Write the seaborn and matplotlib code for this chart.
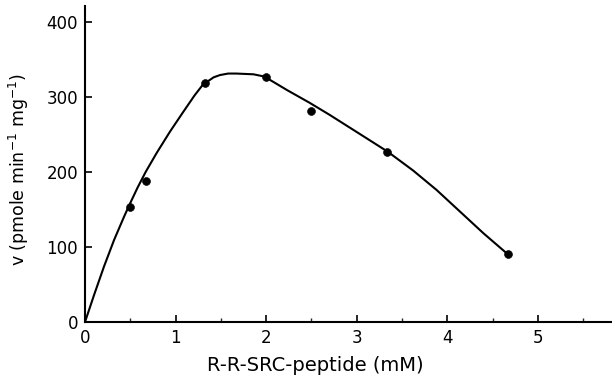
import matplotlib
matplotlib.use("Agg")
import matplotlib.pyplot as plt
from matplotlib.ticker import MultipleLocator
import seaborn as sns
import pandas as pd

# measured data points
conc_mM = [0.5, 0.67, 1.33, 2.0, 2.5, 3.33, 4.67]
velocity = [153, 188, 319, 327, 281, 226, 91]

# hand-drawn fitted curve
curve_x = [0.0, 0.10, 0.21, 0.32, 0.43, 0.49, 0.58, 0.67, 0.79, 0.94, 1.085, 1.21, 1.30,
           1.42, 1.49, 1.58, 1.67, 1.86, 1.98, 2.23, 2.48, 2.70, 3.04, 3.34, 3.62,
           3.88, 4.14, 4.40, 4.66]
curve_y = [0, 36, 74, 109, 140, 156, 179, 200, 225, 254, 280, 302, 316,
           326, 329, 331, 331, 330, 327, 309, 292, 276, 250, 227, 202,
           176, 147, 118, 91]

x_ticks = [0, 1, 2, 3, 4, 5]
y_ticks = [0, 100, 200, 300, 400]

pts = pd.DataFrame({"x": conc_mM, "y": velocity})
crv = pd.DataFrame({"x": curve_x, "y": curve_y})

sns.set_style("ticks")
plt.rcParams["font.family"] = ["DejaVu Sans"]
plt.rcParams["text.color"] = "black"
plt.rcParams["axes.labelcolor"] = "black"

fig = plt.figure(figsize=(6.12, 3.79), dpi=100)
ax = fig.add_axes([85 / 612, 1 - 322 / 379, (612 - 85) / 612, (322 - 6) / 379])

sns.lineplot(data=crv, x="x", y="y", sort=False, color="black", linewidth=1.5, ax=ax)
sns.scatterplot(data=pts, x="x", y="y", color="black", s=32, edgecolor="black", zorder=5, ax=ax)

ax.set_xlim(0, 5.817)
ax.set_ylim(0, 421)
ax.set_xticks(x_ticks)
ax.set_yticks(y_ticks)
ax.xaxis.set_minor_locator(MultipleLocator(0.5))

for side in ["top", "right"]:
    ax.spines[side].set_visible(False)
for side in ["left", "bottom"]:
    ax.spines[side].set_linewidth(1.5)
    ax.spines[side].set_color("black")

ax.tick_params(axis="both", which="major", direction="in", length=5, width=1.2,
               labelsize=12, pad=5, colors="black")
ax.tick_params(axis="x", which="minor", direction="in", length=3, width=1)

ax.set_xlabel("R-R-SRC-peptide (mM)", fontsize=14, color="black")
ax.set_ylabel("v (pmole min$^{-1}$ mg$^{-1}$)", fontsize=12.5, color="black")
ax.xaxis.set_label_coords(0.4364, -0.108)
ax.yaxis.label.set_va("center")
ax.yaxis.set_label_coords(-0.125, 0.481)

fig.savefig("out.png", dpi=100)
